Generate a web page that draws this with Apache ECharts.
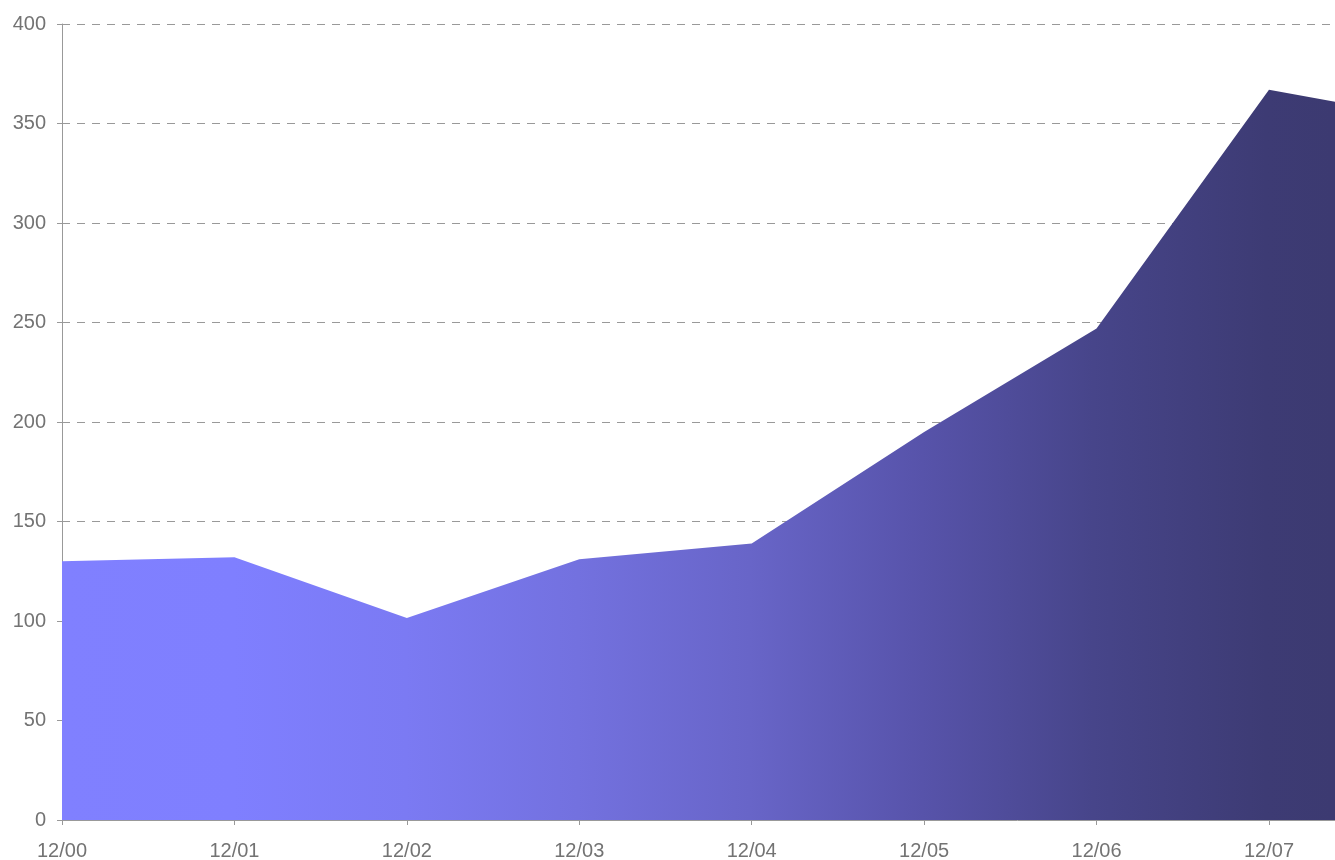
<!DOCTYPE html>
<html>
<head>
<meta charset="utf-8">
<script src="https://cdn.jsdelivr.net/npm/echarts@6/dist/echarts.min.js"></script>
<style>html,body{margin:0;padding:0;background:#fff}#c{width:1335px;height:860px}</style>
</head>
<body>
<div id="c"></div>
<script>
const categories = ['12/00','12/01','12/02','12/03','12/04','12/05','12/06','12/07','12/08'];
const values = [130, 132, 101.5, 131, 139, 195, 247, 367, 351];
const yTicks = {min: 0, max: 400, interval: 50};

const chart = echarts.init(document.getElementById('c'));
const grad = new echarts.graphic.LinearGradient(62, 0, 1335, 0, [
  {offset: 0, color: '#8080ff'},
  {offset: 0.135, color: '#7f7fff'},
  {offset: 0.27, color: '#7b7af3'},
  {offset: 0.405, color: '#7371df'},
  {offset: 0.54, color: '#6865c8'},
  {offset: 0.676, color: '#5753aa'},
  {offset: 0.81, color: '#47458a'},
  {offset: 0.946, color: '#3d3b74'},
  {offset: 1, color: '#3c3a71'}
], true);
chart.setOption({
  animation: false,
  grid: {left: 62, top: 24, bottom: 40, width: 1379.4, outerBoundsMode: 'none', containLabel: false},
  xAxis: {
    type: 'category',
    data: categories,
    boundaryGap: false,
    axisLine: {lineStyle: {color: '#999'}},
    axisTick: {alignWithLabel: true, lineStyle: {color: '#999'}},
    axisLabel: {color: '#737373', fontSize: 20, fontFamily: 'Liberation Sans, Arial, sans-serif', margin: 21}
  },
  yAxis: {
    type: 'value',
    min: yTicks.min, max: yTicks.max, interval: yTicks.interval,
    axisLine: {show: true, lineStyle: {color: '#999'}},
    axisTick: {show: true, lineStyle: {color: '#999'}},
    axisLabel: {color: '#737373', fontSize: 20, fontFamily: 'Liberation Sans, Arial, sans-serif', margin: 16},
    splitLine: {lineStyle: {color: '#999', type: [8, 7]}}
  },
  series: [{
    type: 'line',
    data: values,
    symbol: 'none',
    lineStyle: {width: 0},
    areaStyle: {color: grad, opacity: 1}
  }]
});
</script>
</body>
</html>
